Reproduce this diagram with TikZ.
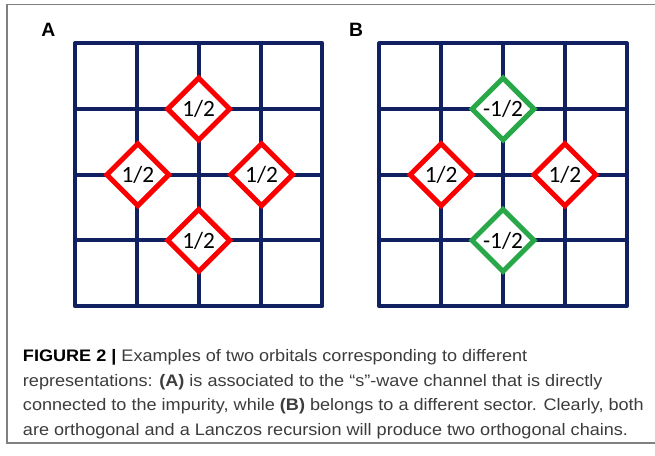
\documentclass[tikz,border=0pt]{standalone}
\usepackage{fontspec}
\setmainfont{Liberation Sans}
\newfontfamily\captionfont[FakeStretch=1.085]{Liberation Sans}
\newfontfamily\sitefont{Carlito}
\usetikzlibrary{shapes.geometric}
\definecolor{latticeNavy}{RGB}{16,32,96}
\definecolor{plusRed}{RGB}{250,0,0}
\definecolor{minusGreen}{RGB}{40,168,72}
\definecolor{frameGray}{RGB}{128,128,128}
\definecolor{captionGray}{RGB}{60,60,60}

\begin{document}
\begin{tikzpicture}[x=0.75pt,y=-0.75pt,
  lattice/.style={latticeNavy,line width=3pt,line join=round},
  site/.style={diamond,draw=#1,line width=3.75pt,fill=white,
    minimum width=48pt,minimum height=48pt,inner sep=0pt,
    font=\sitefont\fontsize{17.5}{17.5}\selectfont},
  panel/.style={font=\bfseries\fontsize{14.5}{14.5}\selectfont}]
  \useasboundingbox (0,0) rectangle (655,455);
  % outer frame, open on the right
  \draw[frameGray,line width=0.9pt] (655,4.5) -- (7,4.5) -- (7,443) -- (655,443);
  % the two 4x4 lattices
  \foreach \gx in {75,379.3} {
    \draw[lattice] (\gx,43.3) rectangle ++(247.4,262.8);
    \foreach \i in {1,2,3} {
      \draw[lattice] (\gx+\i*61.85,43.3) -- ++(0,262.8);
      \draw[lattice] (\gx,43.3+\i*65.7) -- ++(247.4,0);
    }
  }
  \node[panel] (labA) at (48.3,29.7) {A};
  \node[panel] (labB) at (356,30) {B};
  % panel A: s-wave orbital
  \node[site=plusRed] (aN) at (198.7,109) {1/2};
  \node[site=plusRed] (aW) at (137.85,174.7) {1/2};
  \node[site=plusRed] (aE) at (261.55,174.7) {1/2};
  \node[site=plusRed] (aS) at (198.7,240.4) {1/2};
  % panel B: other sector
  \node[site=minusGreen] (bN) at (503,109) {-1/2};
  \node[site=plusRed] (bW) at (441.15,174.7) {1/2};
  \node[site=plusRed] (bE) at (564.85,174.7) {1/2};
  \node[site=minusGreen] (bS) at (503,240.4) {-1/2};
  % caption
  \node[anchor=north west,inner sep=0pt,align=left,text=captionGray,
    font=\captionfont\fontsize{12.5}{18.5}\selectfont] (caption) at (22.7,349)
    {\textbf{\color{black}FIGURE 2 |} Examples of two orbitals corresponding to different\\
     representations: \textbf{(A)} is associated to the “s”-wave channel that is directly\\
     connected to the impurity, while \textbf{(B)} belongs to a different sector. Clearly, both\\
     are orthogonal and a Lanczos recursion will produce two orthogonal chains.};
\end{tikzpicture}
\end{document}
